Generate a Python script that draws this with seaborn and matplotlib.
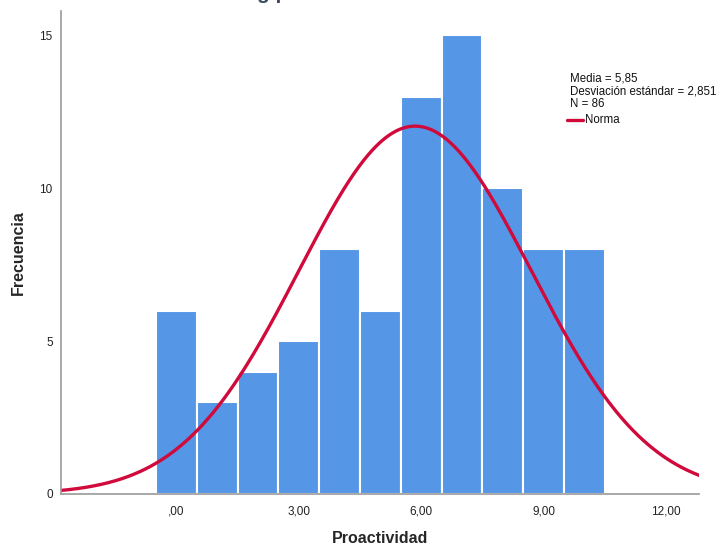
import numpy as np
import pandas as pd
import matplotlib
matplotlib.use("Agg")
import matplotlib.pyplot as plt
import seaborn as sns

valores = [0, 1, 2, 3, 4, 5, 6, 7, 8, 9, 10]
frecuencias = [6, 3, 4, 5, 8, 6, 13, 15, 10, 8, 8]
media = 5.85
desv = 2.851
n = 86
xticks = [0, 3, 6, 9, 12]
xtick_labels = [",00", "3,00", "6,00", "9,00", "12,00"]
yticks = [0, 5, 10, 15]

df = pd.DataFrame({"Proactividad": valores, "Frecuencia": frecuencias})

sns.set_style("white")
plt.rcParams['font.family'] = ['Liberation Sans', 'DejaVu Sans']

fig = plt.figure(figsize=(7.26, 5.48), dpi=100)
ax = fig.add_axes([61 / 726, 1 - 494 / 548, (699 - 61) / 726, (494 - 11) / 548])

sns.histplot(data=df, x="Proactividad", weights="Frecuencia",
             binwidth=1, binrange=(-0.5, 10.5),
             color="#5596e6", alpha=1, edgecolor="white", linewidth=1.5, ax=ax)

# curva normal
xs = np.linspace(-2.9, 12.9, 400)
ys = n * np.exp(-0.5 * ((xs - media) / desv) ** 2) / (desv * np.sqrt(2 * np.pi))
sns.lineplot(x=xs, y=ys, color="#d10a3c", linewidth=2.4, ax=ax)

ax.set_xlim(-2.83, 12.81)
ax.set_ylim(0, 15.8)
ax.set_xticks(xticks)
ax.set_xticklabels(xtick_labels)
ax.set_yticks(yticks)
ax.tick_params(length=0, labelsize=8.5, colors="#222222", pad=8)
ax.tick_params(axis="y", pad=6)

for s in ["top", "right"]:
    ax.spines[s].set_visible(False)
for s in ["left", "bottom"]:
    ax.spines[s].set_color("#999999")
    ax.spines[s].set_linewidth(1.2)

ax.set_xlabel("Proactividad", fontsize=11.5, fontweight="bold", labelpad=10)
ax.set_ylabel("Frecuencia", fontsize=11.5, fontweight="bold", labelpad=10)

# titulo recortado arriba
fig.text(257 / 726, 1 + 1.2 / 548, "g p", fontsize=15, fontweight="bold",
         color="#3c4b60", va="baseline", ha="left")

# cuadro de estadisticos
fig.text(570 / 726, 1 - 72 / 548,
         "Media = 5,85\nDesviación estándar = 2,851\nN = 86",
         fontsize=8.3, va="top", ha="left", linespacing=1.12, color="#111111")
fig.add_artist(plt.Line2D([567 / 726, 583 / 726], [1 - 120 / 548] * 2,
                          color="#d10a3c", linewidth=2.4))
fig.text(585 / 726, 1 - 120 / 548, "Norma", fontsize=8.3, va="center",
         ha="left", color="#111111")

fig.savefig("out.png", dpi=100)
